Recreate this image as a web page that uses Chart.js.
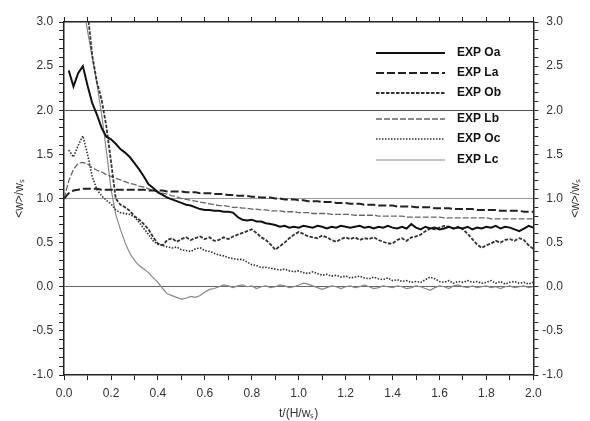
<!DOCTYPE html>
<html>
<head>
<meta charset="utf-8">
<script src="https://cdn.jsdelivr.net/npm/chart.js@4.4.1/dist/chart.umd.min.js"></script>
<style>
  html, body { margin: 0; padding: 0; background: #fff; }
  canvas { display: block; }
</style>
</head>
<body>
<canvas id="myChart" width="590" height="421"></canvas>
<script>
// time axis t/(H/ws), sampled every 0.02
const times = [
  0.00, 0.02, 0.04, 0.06, 0.08, 0.10, 0.12, 0.14, 0.16, 0.18,
  0.20, 0.22, 0.24, 0.26, 0.28, 0.30, 0.32, 0.34, 0.36, 0.38,
  0.40, 0.42, 0.44, 0.46, 0.48, 0.50, 0.52, 0.54, 0.56, 0.58,
  0.60, 0.62, 0.64, 0.66, 0.68, 0.70, 0.72, 0.74, 0.76, 0.78,
  0.80, 0.82, 0.84, 0.86, 0.88, 0.90, 0.92, 0.94, 0.96, 0.98,
  1.00, 1.02, 1.04, 1.06, 1.08, 1.10, 1.12, 1.14, 1.16, 1.18,
  1.20, 1.22, 1.24, 1.26, 1.28, 1.30, 1.32, 1.34, 1.36, 1.38,
  1.40, 1.42, 1.44, 1.46, 1.48, 1.50, 1.52, 1.54, 1.56, 1.58,
  1.60, 1.62, 1.64, 1.66, 1.68, 1.70, 1.72, 1.74, 1.76, 1.78,
  1.80, 1.82, 1.84, 1.86, 1.88, 1.90, 1.92, 1.94, 1.96, 1.98,
  2.00
];

const expOa = [
  null, 2.45, 2.27, 2.42, 2.50, 2.28, 2.08, 1.95, 1.80, 1.70,
  1.67, 1.62, 1.56, 1.52, 1.47, 1.40, 1.33, 1.25, 1.16, 1.12,
  1.07, 1.04, 1.01, 0.99, 0.97, 0.95, 0.93, 0.92, 0.90, 0.88,
  0.87, 0.87, 0.86, 0.86, 0.85, 0.85, 0.84, 0.79, 0.76, 0.75,
  0.76, 0.74, 0.74, 0.72, 0.71, 0.70, 0.68, 0.69, 0.67, 0.68,
  0.67, 0.69, 0.68, 0.67, 0.69, 0.68, 0.66, 0.68, 0.67, 0.69,
  0.68, 0.67, 0.68, 0.69, 0.67, 0.68, 0.66, 0.68, 0.67, 0.69,
  0.67, 0.66, 0.68, 0.66, 0.71, 0.67, 0.65, 0.68, 0.66, 0.67,
  0.65, 0.66, 0.68, 0.66, 0.67, 0.66, 0.68, 0.65, 0.67, 0.66,
  0.68, 0.67, 0.69, 0.66, 0.68, 0.67, 0.65, 0.63, 0.66, 0.69,
  0.67
];

const expLa = [
  1.00, 1.06, 1.09, 1.10, 1.11, 1.11, 1.11, 1.11, 1.10, 1.10,
  1.10, 1.10, 1.10, 1.10, 1.10, 1.10, 1.10, 1.10, 1.09, 1.09,
  1.09, 1.09, 1.08, 1.08, 1.08, 1.08, 1.07, 1.07, 1.07, 1.06,
  1.06, 1.06, 1.05, 1.05, 1.05, 1.04, 1.04, 1.03, 1.03, 1.03,
  1.02, 1.02, 1.01, 1.01, 1.01, 1.00, 1.00, 0.99, 0.99, 0.99,
  0.98, 0.98, 0.97, 0.97, 0.97, 0.96, 0.96, 0.96, 0.95, 0.95,
  0.95, 0.94, 0.94, 0.94, 0.93, 0.93, 0.93, 0.92, 0.92, 0.92,
  0.92, 0.91, 0.91, 0.91, 0.91, 0.90, 0.90, 0.90, 0.90, 0.89,
  0.89, 0.89, 0.89, 0.88, 0.88, 0.88, 0.88, 0.88, 0.87, 0.87,
  0.87, 0.87, 0.87, 0.86, 0.86, 0.86, 0.86, 0.86, 0.85, 0.85,
  0.85
];

const expOb = [
  null, null, null, null, null, 3.12, 2.62, 2.32, 2.12, 1.82,
  1.42, 1.00, 0.93, 0.90, 0.86, 0.80, 0.76, 0.71, 0.65, 0.56,
  0.49, 0.47, 0.53, 0.55, 0.51, 0.54, 0.56, 0.53, 0.55, 0.57,
  0.54, 0.56, 0.52, 0.53, 0.56, 0.54, 0.57, 0.59, 0.61, 0.63,
  0.65, 0.61, 0.56, 0.53, 0.48, 0.42, 0.46, 0.50, 0.55, 0.59,
  0.62, 0.60, 0.57, 0.56, 0.55, 0.58, 0.56, 0.53, 0.51, 0.54,
  0.56, 0.54, 0.56, 0.53, 0.55, 0.54, 0.56, 0.53, 0.51, 0.49,
  0.49, 0.53, 0.55, 0.52, 0.56, 0.57, 0.59, 0.63, 0.66, 0.65,
  0.67, 0.69, 0.68, 0.66, 0.68, 0.65, 0.60, 0.54, 0.48, 0.44,
  0.47, 0.49, 0.52, 0.50, 0.53, 0.54, 0.52, 0.55, 0.53, 0.47,
  0.43
];

const expLb = [
  1.00, 1.20, 1.33, 1.40, 1.41, 1.39, 1.35, 1.32, 1.30, 1.27,
  1.25, 1.23, 1.21, 1.19, 1.17, 1.16, 1.14, 1.13, 1.11, 1.09,
  1.08, 1.06, 1.05, 1.03, 1.02, 1.00, 0.99, 0.98, 0.97, 0.96,
  0.95, 0.94, 0.93, 0.92, 0.92, 0.91, 0.90, 0.90, 0.89, 0.89,
  0.88, 0.88, 0.87, 0.87, 0.86, 0.86, 0.86, 0.85, 0.85, 0.85,
  0.84, 0.84, 0.84, 0.83, 0.83, 0.83, 0.83, 0.82, 0.82, 0.82,
  0.82, 0.82, 0.81, 0.81, 0.81, 0.81, 0.81, 0.80, 0.80, 0.80,
  0.80, 0.80, 0.80, 0.79, 0.79, 0.79, 0.79, 0.79, 0.79, 0.79,
  0.79, 0.78, 0.78, 0.78, 0.78, 0.78, 0.78, 0.78, 0.78, 0.78,
  0.78, 0.77, 0.77, 0.77, 0.77, 0.77, 0.77, 0.77, 0.77, 0.77,
  0.77
];

const expOc = [
  null, 1.55, 1.47, 1.60, 1.71, 1.50, 1.25, 1.10, 1.03, 0.98,
  0.94, 0.87, 0.84, 0.83, 0.82, 0.79, 0.73, 0.66, 0.59, 0.52,
  0.48, 0.47, 0.45, 0.44, 0.45, 0.42, 0.41, 0.40, 0.43, 0.44,
  0.41, 0.40, 0.38, 0.36, 0.35, 0.33, 0.32, 0.31, 0.31, 0.28,
  0.25, 0.24, 0.22, 0.22, 0.21, 0.20, 0.19, 0.20, 0.18, 0.17,
  0.18, 0.16, 0.15, 0.17, 0.15, 0.13, 0.14, 0.12, 0.13, 0.11,
  0.12, 0.10, 0.11, 0.12, 0.10, 0.09, 0.11, 0.09, 0.08, 0.10,
  0.07, 0.08, 0.06, 0.07, 0.05, 0.06, 0.05, 0.08, 0.11, 0.09,
  0.06, 0.05, 0.07, 0.04, 0.06, 0.05, 0.07, 0.05, 0.06, 0.04,
  0.05, 0.07, 0.04, 0.06, 0.03, 0.05, 0.06, 0.04, 0.05, 0.03,
  0.05
];

const expLc = [
  null, null, null, null, 3.22, 2.90, 2.60, 2.30, 1.95, 1.55,
  1.11, 0.82, 0.65, 0.50, 0.38, 0.30, 0.24, 0.20, 0.16, 0.10,
  0.05, -0.02, -0.08, -0.10, -0.12, -0.14, -0.13, -0.11, -0.12, -0.10,
  -0.06, -0.03, -0.02, 0.00, 0.02, 0.01, -0.01, 0.01, 0.02, 0.00,
  0.01, -0.02, 0.00, 0.01, -0.01, 0.00, 0.02, 0.01, -0.01, 0.00,
  0.02, 0.04, 0.03, 0.01, -0.01, -0.03, -0.01, 0.01, 0.00, -0.02,
  0.00, 0.01, -0.01, 0.00, 0.02, 0.00, -0.02, -0.01, 0.01, 0.00,
  -0.01, 0.01, 0.00, -0.02, -0.01, 0.01, 0.00, -0.02, -0.04, -0.01,
  0.01, 0.00, -0.02, 0.01, 0.02, 0.00, -0.01, 0.01, -0.01, 0.00,
  0.01, -0.01, 0.00, -0.02, 0.00, 0.01, -0.01, 0.00, 0.01, -0.01,
  0.00
];

const seriesNames = ["EXP Oa", "EXP La", "EXP Ob", "EXP Lb", "EXP Oc", "EXP Lc"];
const yTitle = "<w>/wₛ";
const xTitle = "t/(H/wₛ)";

const toPoints = vals => times.map((t, i) => ({ x: t, y: vals[i] }));

// legend drawn inside the plot, rows at fixed heights like the original
const insideLegend = {
  id: "insideLegend",
  afterDatasetsDraw(chart) {
    const ctx = chart.ctx;
    const rows = [53, 73, 93, 119, 139, 160];
    ctx.save();
    chart.data.datasets.forEach((ds, i) => {
      const y = rows[i];
      ctx.beginPath();
      ctx.setLineDash(ds.borderDash || []);
      ctx.strokeStyle = ds.borderColor;
      ctx.lineWidth = ds.borderWidth;
      ctx.moveTo(376, y);
      ctx.lineTo(445, y);
      ctx.stroke();
      ctx.setLineDash([]);
      ctx.fillStyle = "#111";
      ctx.font = 'bold 12px "Liberation Sans", Arial, sans-serif';
      ctx.textBaseline = "middle";
      ctx.textAlign = "left";
      ctx.fillText(ds.label, 457, y);
    });
    ctx.restore();
  },
  afterDraw(chart) {
    // right axis title reads bottom-to-top, same as the left one
    const ctx = chart.ctx;
    const a = chart.chartArea;
    ctx.save();
    ctx.translate(576, (a.top + a.bottom) / 2);
    ctx.rotate(-Math.PI / 2);
    ctx.fillStyle = "#333";
    ctx.font = '12px "Liberation Sans", Arial, sans-serif';
    ctx.textAlign = "center";
    ctx.textBaseline = "middle";
    ctx.fillText(yTitle, 0, 0);
    ctx.restore();
  }
};

document.addEventListener("DOMContentLoaded", () => {
    Chart.defaults.font.family = '"Liberation Sans", Arial, sans-serif';
    Chart.defaults.font.size = 12;
    Chart.defaults.color = "#333";

    const xLabel = v => (Math.round(v * 10) % 2 === 0 ? (Math.round(v * 10) / 10).toFixed(1) : "");
    const yLabel = v => (Math.round(v * 10) % 5 === 0 ? (Math.round(v * 10) / 10).toFixed(1) : "");
    const hGrid = c => {
        if (!c.tick) return "rgba(0,0,0,0)";
        const v = Math.round(c.tick.value * 10);
        if (v === 20) return "#555";
        if (v === 10) return "#999";
        if (v === 0) return "#666";
        return "rgba(0,0,0,0)";
    };

    const ctx = document.getElementById("myChart").getContext("2d");
    new Chart(ctx, {
        type: "line",
        data: {
            datasets: [
                { label: seriesNames[0], data: toPoints(expOa), borderColor: "#111", borderWidth: 2, borderDash: [] },
                { label: seriesNames[1], data: toPoints(expLa), borderColor: "#222", borderWidth: 2, borderDash: [8, 3] },
                { label: seriesNames[2], data: toPoints(expOb), borderColor: "#333", borderWidth: 1.8, borderDash: [3.5, 1.5] },
                { label: seriesNames[3], data: toPoints(expLb), borderColor: "#666", borderWidth: 1.3, borderDash: [6, 2] },
                { label: seriesNames[4], data: toPoints(expOc), borderColor: "#333", borderWidth: 1.6, borderDash: [1.5, 1.5] },
                { label: seriesNames[5], data: toPoints(expLc), borderColor: "#888", borderWidth: 1.2, borderDash: [] },
            ],
        },
        options: {
            responsive: false,
            animation: false,
            elements: { point: { radius: 0 }, line: { tension: 0, fill: false } },
            layout: { padding: { left: 8, right: 27, top: 17, bottom: 0 } },
            plugins: {
                legend: { display: false },
                tooltip: { enabled: false },
            },
            scales: {
                x: {
                    type: "linear", position: "bottom", min: 0, max: 2,
                    ticks: { stepSize: 0.1, autoSkip: false, maxRotation: 0, padding: 8, font: { lineHeight: 1.0 }, callback: xLabel },
                    grid: { drawOnChartArea: false, tickLength: 5, tickColor: "#222" },
                    border: { color: "#222", width: 1.5 },
                    title: { display: true, text: xTitle, font: { lineHeight: 1.0 }, padding: { top: 0, bottom: 1 } },
                },
                x2: {
                    type: "linear", position: "top", min: 0, max: 2,
                    ticks: { stepSize: 0.1, display: false },
                    grid: { drawOnChartArea: false, tickLength: 5, tickColor: "#222" },
                    border: { color: "#222", width: 1.5 },
                },
                y: {
                    position: "left", min: -1, max: 3,
                    ticks: { stepSize: 0.1, autoSkip: false, padding: 6, callback: yLabel },
                    grid: { color: hGrid, lineWidth: 1, tickLength: 5, tickColor: "#222" },
                    border: { color: "#222", width: 1.5 },
                    title: { display: true, text: yTitle, padding: { top: 4, bottom: 0 } },
                },
                y2: {
                    position: "right", min: -1, max: 3,
                    ticks: { stepSize: 0.1, autoSkip: false, padding: 2, crossAlign: "far", callback: yLabel },
                    grid: { drawOnChartArea: false, tickLength: 5, tickColor: "#222" },
                    border: { color: "#222", width: 1.5 },
                },
            },
        },
        plugins: [insideLegend],
    });
});
</script>
</body>
</html>
